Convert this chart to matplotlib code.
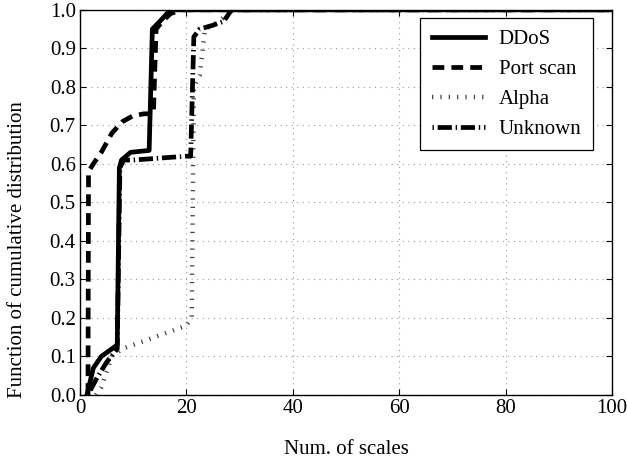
import matplotlib
matplotlib.use("Agg")
import matplotlib.pyplot as plt

plt.rcParams['font.family'] = ['Liberation Serif', 'DejaVu Serif']
plt.rcParams['font.size'] = 15

ddos_x = [1.3, 2.5, 4, 7, 7.4, 7.8, 9.5, 13.0, 13.6, 15, 17, 18, 100]
ddos_y = [0.0, 0.07, 0.1, 0.13, 0.59, 0.61, 0.63, 0.635, 0.95, 0.97, 1.0, 1.0, 1.0]

port_x = [1.5, 1.6, 2.5, 4, 6, 8, 10, 12, 13.8, 14.3, 15.5, 17, 19, 100]
port_y = [0.0, 0.58, 0.60, 0.63, 0.68, 0.71, 0.725, 0.73, 0.73, 0.95, 0.97, 0.99, 1.0, 1.0]

alpha_x = [3.0, 4, 5, 6, 8, 12, 16, 20, 21.0, 21.4, 22.5, 23.5, 25, 27, 28, 100]
alpha_y = [0.0, 0.02, 0.06, 0.10, 0.12, 0.14, 0.16, 0.18, 0.20, 0.80, 0.83, 0.95, 0.96, 0.98, 1.0, 1.0]

unk_x = [1.5, 3, 5, 7, 7.5, 8.2, 10, 15, 20, 20.8, 21.4, 22.5, 25, 27, 28.5, 100]
unk_y = [0.0, 0.04, 0.085, 0.12, 0.59, 0.61, 0.61, 0.615, 0.62, 0.62, 0.93, 0.95, 0.96, 0.97, 1.0, 1.0]

labels = ["DDoS", "Port scan", "Alpha", "Unknown"]

fig = plt.figure(figsize=(6.27, 4.68), dpi=100)
ax = fig.add_axes([0.1276, 0.156, 0.8484, 0.823])

lw = 3.4
ax.plot(ddos_x, ddos_y, color='black', lw=lw, ls='-', label=labels[0], zorder=5)
ax.plot(port_x, port_y, color='black', lw=lw, ls=(0, (2.5, 1.5)), label=labels[1],
        dash_capstyle='butt', zorder=4)
ax.plot(alpha_x, alpha_y, color='#444444', lw=3.2, ls=(0, (0.28, 1.6)), label=labels[2],
        dash_capstyle='butt', zorder=3)
ax.plot(unk_x, unk_y, color='black', lw=lw, ls=(0, (0.3, 0.8, 3.0, 0.8)), label=labels[3],
        dash_capstyle='butt', zorder=4)

ax.set_xlim(0, 100)
ax.set_ylim(0, 1.0)
ax.set_xticks([0, 20, 40, 60, 80, 100])
ax.set_yticks([i / 10 for i in range(11)])
ax.set_yticklabels([f"{i/10:.1f}" for i in range(11)])
ax.tick_params(direction='in', top=True, right=True, length=4, width=0.8, labelsize=15, pad=3)
ax.grid(True, color='#999999', ls=(0, (1, 4)), lw=0.8)
for s in ax.spines.values():
    s.set_linewidth(1.0)

ax.set_xlabel("Num. of scales", fontsize=15, labelpad=16)
ax.set_ylabel("Function of cumulative distribution", fontsize=15)
ax.yaxis.set_label_coords(-0.1, 0.377)

leg = ax.legend(loc='upper right', bbox_to_anchor=(0.964, 0.979), fancybox=False,
                edgecolor='black', framealpha=1, fontsize=15, handlelength=2.55,
                borderpad=0.55, labelspacing=0.5, handletextpad=0.67, borderaxespad=0)
leg.get_frame().set_linewidth(0.9)

fig.savefig("out.png", dpi=100)
